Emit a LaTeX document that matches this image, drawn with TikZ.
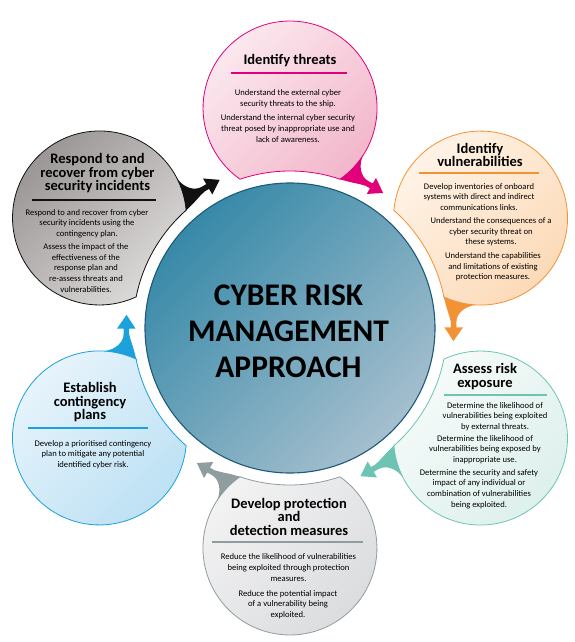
\documentclass[tikz,border=0pt]{standalone}
\usepackage{fontspec}
\setmainfont{Carlito}
\definecolor{pinkC}{HTML}{E2007A}
\definecolor{orangeC}{HTML}{F39234}
\definecolor{tealC}{HTML}{6DC4B2}
\definecolor{grayC}{HTML}{8F9D9F}
\definecolor{blueC}{HTML}{1BA1DC}
\definecolor{darkC}{HTML}{111111}
\definecolor{pinkA}{HTML}{FCEAF0}\definecolor{pinkB}{HTML}{F2B8CB}
\definecolor{orangeA}{HTML}{FFF3E7}\definecolor{orangeB}{HTML}{FCD8B4}
\definecolor{tealA}{HTML}{F6FBFA}\definecolor{tealB}{HTML}{DDF0EB}
\definecolor{grayA}{HTML}{F2F2F3}\definecolor{grayB}{HTML}{DADBDD}
\definecolor{blueA}{HTML}{EAF5FC}\definecolor{blueB}{HTML}{BDE1F4}
\definecolor{darkA}{HTML}{9A9595}\definecolor{darkB}{HTML}{DEDBDB}
\definecolor{coreA}{HTML}{3789A8}\definecolor{coreB}{HTML}{A5BFCE}
\definecolor{coreEdge}{HTML}{1D5A7A}
\tikzset{
  ttl/.style={font=\bfseries\fontsize{14.5}{13.5}\selectfont, align=center, inner sep=0pt},
  bodytxt/.style={font=\fontsize{8.6}{10.6}\selectfont, align=center, inner sep=0pt},
  uline/.style={line width=2.2pt},
  bubble/.style={line width=0.8pt},
}
\begin{document}
\begin{tikzpicture}[x=1pt,y=1pt]
\useasboundingbox (-290,-314) rectangle (285,328);
% bubbles
\foreach \t/\c/\ca/\cb in {90/pinkC/pinkA/pinkB, 30/orangeC/orangeA/orangeB, -30/tealC/tealA/tealB, -90/grayC/grayA/grayB, -150/blueC/blueA/blueB, 150/darkC/darkA/darkB}{
  \path[bubble, draw=\c, top color=\ca, bottom color=\cb, shading angle=45]
    ({\t-18.6}:157) arc[start angle={\t-144.9}, end angle={\t+144.9}, radius=87]
    arc[start angle={\t+18.6}, end angle={\t-18.6}, radius=157] -- cycle;
  \fill[\c] ({\t-18.6}:157) .. controls ({\t-23}:157.5) and ({\t-26}:160.5) .. ({\t-28}:161)
    -- ({\t-29.8}:161) -- ({\t-29.8}:154.5) -- ({\t-34.6}:164) -- ({\t-29.8}:173)
    -- ({\t-29.8}:166.5) -- ({\t-28}:166.5)
    .. controls ({\t-25}:167) and ({\t-22.9}:176) .. ({\t-22.9}:187.4)
    arc[start angle={\t-123}, end angle={\t-144.9}, radius=87] -- cycle;
}
% core
\node[circle, minimum size=290pt, inner sep=0pt, draw=coreEdge, line width=1.1pt,
  top color=coreA, bottom color=coreB, shading angle=45] (core) at (0,0) {};
\node[font=\bfseries\fontsize{31.5}{36}\selectfont, align=center] (coretxt) at (-1.5,-3) {CYBER RISK\\MANAGEMENT\\APPROACH};
% pink
\node[ttl] (t1) at (0,267) {Identify threats};
\draw[uline, pinkC] (-59,255) coordinate (u1a) -- (57,255) coordinate (u1b);
\node[bodytxt] (b1) at (-2,212) {Understand the external cyber\\security threats to the ship.\\[4pt]Understand the internal cyber security\\threat posed by inappropriate use and\\lack of awareness.};
% orange
\node[ttl] (t2) at (190,173) {Identify\\vulnerabilities};
\draw[uline, orangeC] (129,155) coordinate (u2a) -- (249,155) coordinate (u2b);
\node[bodytxt] (b2a) at (189,131) {Develop inventories of onboard\\systems with direct and indirect\\communications links.};
\node[bodytxt] (b2b) at (201,96) {Understand the consequences of a\\cyber security threat on\\these systems.};
\node[bodytxt] (b2c) at (203,61) {Understand the capabilities\\and limitations of existing\\protection measures.};
% teal
\node[ttl] (t3) at (195,-48.5) {Assess risk\\exposure};
\draw[uline, tealC] (154,-67) coordinate (u3a) -- (257,-67) coordinate (u3b);
\node[bodytxt] (b3a) at (205,-88.5) {Determine the likelihood of\\vulnerabilities being exploited\\by external threats.};
\node[bodytxt] (b3b) at (195,-121.5) {Determine the likelihood of\\vulnerabilities being exposed by\\inappropriate use.};
\node[bodytxt] (b3c) at (189,-161) {Determine the security and safety\\impact of any individual or\\combination of vulnerabilities\\being exploited.};
% gray
\node[ttl] (t4) at (-1,-188.5) {Develop protection\\and\\detection measures};
\draw[uline, grayC] (-78,-214) coordinate (u4a) -- (73,-214) coordinate (u4b);
\node[bodytxt] (b4a) at (-1.5,-239.5) {Reduce the likelihood of vulnerabilities\\being exploited through protection\\measures.};
\node[bodytxt] (b4b) at (-2,-276.5) {Reduce the potential impact\\of a vulnerability being\\exploited.};
% blue
\node[ttl] (t5) at (-200,-74.5) {Establish\\contingency\\plans};
\draw[uline, blueC] (-262,-100) coordinate (u5a) -- (-142,-100) coordinate (u5b);
\node[bodytxt] (b5) at (-197,-126.5) {Develop a prioritised contingency\\plan to mitigate any potential\\identified cyber risk.};
% dark
\node[ttl] (t6) at (-192.5,154.5) {Respond to and\\recover from cyber\\security incidents};
\draw[uline, darkC] (-258,128) coordinate (u6a) -- (-134,128) coordinate (u6b);
\node[bodytxt] (b6a) at (-203,104.5) {Respond to and recover from cyber\\security incidents using the\\contingency plan.};
\node[bodytxt] (b6b) at (-204,60) {Assess the impact of the\\effectiveness of the\\response plan and\\re-assess threats and\\vulnerabilities.};
\end{tikzpicture}
\end{document}
